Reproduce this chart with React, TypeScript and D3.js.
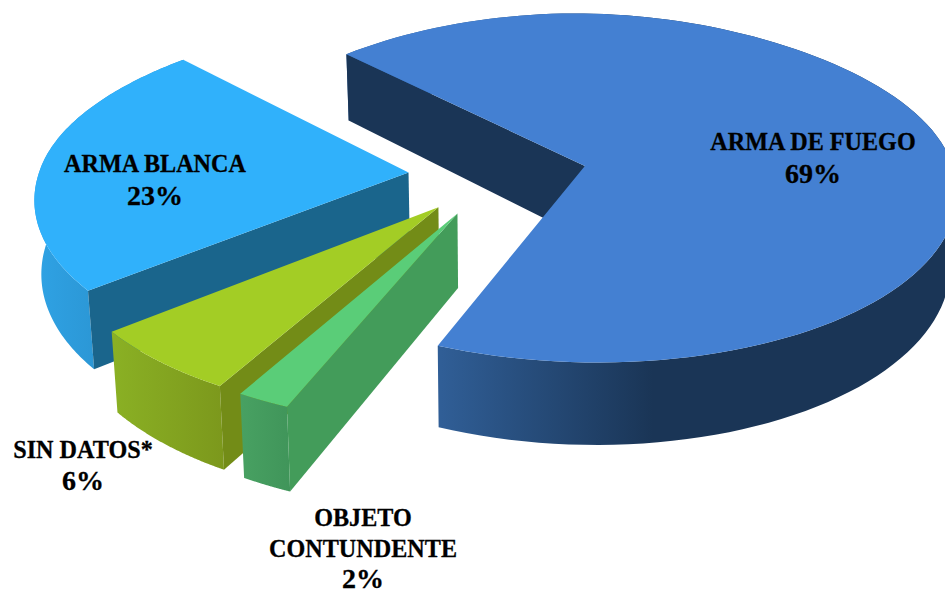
import React from "react";
import * as d3 from "d3";

const categories = ["ARMA DE FUEGO", "OBJETO CONTUNDENTE", "SIN DATOS*", "ARMA BLANCA"];
const values = [69, 2, 6, 23];
const labelLines = [["ARMA DE FUEGO", "69%"], ["OBJETO", "CONTUNDENTE", "2%"], ["SIN DATOS*", "6%"], ["ARMA BLANCA", "23%"]];
const labelAnchors = [[813, 150], [363, 526], [83, 458], [155, 172]];
const labelGaps = [33, 31, 32, 33];
const topColors = ["#4480d2", "#5acd78", "#a3cd25", "#30b1fb"];
const wallColors = ["#1a3556", "#439c5a", "#738c17", "#1a658c"];
const bandStops = [
  [["#305e96", 0], ["#1a3556", 0.42], ["#1a3556", 1]],
  [["#48a162", 0], ["#40955a", 1]],
  [["#8ab024", 0], ["#7c981c", 1]],
  [["#2fa2e4", 0], ["#2b96d4", 1]],
];
const bandRange = [[441, 945], [240, 290], [114, 224], [37, 100]];

const W = 945, H = 589;
const cx = 497.8, cy = 174.5, R = 370, explode = 89.5, tiltK = 0.47, persp = 0.127, depth = 72.5, startAngle = -46 * Math.PI / 180;

// (ox, oy): slice offset from the pie centre; (dx, dy): point relative to the slice apex; z: 0 top, 1 bottom
function project(ox: number, oy: number, dx: number, dy: number, z: number): [number, number] {
  const wy = oy + dy;
  const s = 1 / (1 - persp * wy / R);
  const u = Math.min(0, dy / R);
  const pinch = 1 - 0.1 * u * u;
  const wx = (ox + dx * pinch) * s;
  return [cx + wx * (1 - 0.015 * z), cy + tiltK * wy * s + 10 * u * (1 + u) + depth * z * s];
}

export default function App() {
  const pie = d3.pie<number>().sort(null).startAngle(startAngle).endAngle(startAngle + 2 * Math.PI);
  const arcs = pie(values);
  const line = d3.line();
  const order = [0, 3, 2, 1];

  return (
    <svg width={W} height={H} viewBox={`0 0 ${W} ${H}`} style={{ position: "absolute", left: 0, top: 0, display: "block", background: "#fff" }}>
      <defs>
        {bandStops.map((stops, i) => (
          <linearGradient key={i} id={`band${i}`} gradientUnits="userSpaceOnUse" x1={bandRange[i][0]} x2={bandRange[i][1]} y1={0} y2={0}>
            {stops.map(([c, o], j) => <stop key={j} offset={o as number} stopColor={c as string} />)}
          </linearGradient>
        ))}
      </defs>
      {order.map((i) => {
        const a = arcs[i];
        const mid = (a.startAngle + a.endAngle) / 2;
        const ox = explode * Math.sin(mid), oy = -explode * Math.cos(mid);
        const rim = (t: number, z: number) => project(ox, oy, R * Math.sin(t), -R * Math.cos(t), z);
        const apex = (z: number) => project(ox, oy, 0, 0, z);
        const angles = d3.range(0, 121).map((k) => a.startAngle + (a.endAngle - a.startAngle) * k / 120);
        const topPts = [apex(0), ...angles.map((t) => rim(t, 0))];
        const bandPts = [...angles.map((t) => rim(t, 0)), ...angles.slice().reverse().map((t) => rim(t, 1))];
        const wallPts = [apex(0), rim(a.startAngle, 0), rim(a.startAngle, 1), apex(1)];
        return (
          <g key={categories[i]}>
            <path d={line(bandPts) + "Z"} fill={`url(#band${i})`} />
            <path d={line(wallPts) + "Z"} fill={wallColors[i]} />
            <path d={line(topPts) + "Z"} fill={topColors[i]} />
          </g>
        );
      })}
      {labelLines.map((lines, i) => (
        <g key={i} fontFamily="'Liberation Serif', serif" fontWeight="bold" fill="#000" stroke="#000" strokeWidth={0.3} textAnchor="middle">
          {lines.map((l, j) => {
            const isPct = j === lines.length - 1;
            const x = labelAnchors[i][0], y = labelAnchors[i][1] + j * labelGaps[i];
            return (
              <text key={j} fontSize={isPct ? 28 : 26}
                transform={`translate(${x},${y}) scale(${isPct ? 1 : 0.93},1)`}>{l}</text>
            );
          })}
        </g>
      ))}
    </svg>
  );
}
